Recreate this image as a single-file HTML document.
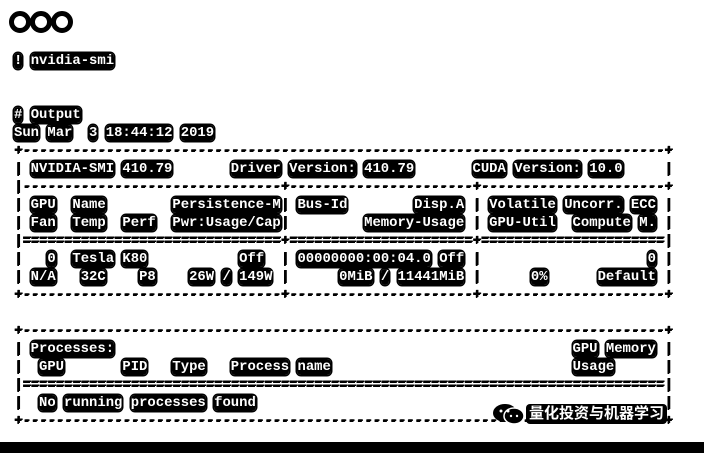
<!DOCTYPE html>
<html><head><meta charset="utf-8"><style>
html,body{margin:0;padding:0;background:#fff;width:704px;height:453px;overflow:hidden;position:relative}
pre{position:absolute;left:14px;top:52px;margin:0;font-family:"Liberation Mono",monospace;font-weight:bold;font-size:13.9px;line-height:18px;color:#000;white-space:pre;text-shadow:1px 0 #000,0 1px #000}
pre span.w{background:#000;color:#fff;border-radius:4px;box-shadow:0 0 0 1.5px #000;text-shadow:none}
.dots{position:absolute;top:11px;left:9px}
.dots i{display:inline-block;width:12px;height:12px;border:5px solid #000;border-radius:50%;margin-right:-1px}
.wm{position:absolute;left:492px;top:404px;height:20px;display:flex;align-items:center;font-family:"Liberation Sans","Noto Sans CJK SC",sans-serif;font-size:15px;color:#fff}
.wm b{background:#000;padding:0 3px;border-radius:4px;font-weight:bold;line-height:20px}
.bar{position:absolute;left:0;top:442px;width:704px;height:11px;background:#000}
</style></head><body>
<div class="dots"><i></i><i></i><i></i></div>
<pre id="t">! nvidia-smi


# Output
Sun Mar  3 18:44:12 2019
+-----------------------------------------------------------------------------+
| NVIDIA-SMI 410.79       Driver Version: 410.79       CUDA Version: 10.0     |
|-------------------------------+----------------------+----------------------+
| GPU  Name        Persistence-M| Bus-Id        Disp.A | Volatile Uncorr. ECC |
| Fan  Temp  Perf  Pwr:Usage/Cap|         Memory-Usage | GPU-Util  Compute M. |
|===============================+======================+======================|
|   0  Tesla K80           Off  | 00000000:00:04.0 Off |                    0 |
| N/A   32C    P8    26W / 149W |      0MiB / 11441MiB |      0%      Default |
+-------------------------------+----------------------+----------------------+

+-----------------------------------------------------------------------------+
| Processes:                                                       GPU Memory |
|  GPU       PID   Type   Process name                             Usage      |
|=============================================================================|
|  No running processes found                                                 |
+-----------------------------------------------------------------------------+</pre>
<div class="wm"><svg width="34" height="22" viewBox="0 0 34 22"><ellipse cx="13" cy="10" rx="12" ry="9" fill="#000"/><ellipse cx="22" cy="13" rx="10" ry="8" fill="#000" stroke="#fff" stroke-width="1.5"/><circle cx="9" cy="8" r="1.5" fill="#fff"/><circle cx="16" cy="8" r="1.5" fill="#fff"/><circle cx="19" cy="13" r="1.2" fill="#fff"/><circle cx="25" cy="13" r="1.2" fill="#fff"/></svg><b>量化投资与机器学习</b></div>
<div class="bar"></div>
<script>
var p=document.getElementById('t');
var lines=p.textContent.split('\n');
function esc(s){return s.replace(/&/g,'&amp;').replace(/</g,'&lt;')}
p.innerHTML=lines.map(function(l){
 if(/^[+\-=|\s]*$/.test(l)) return esc(l);
 return l.replace(/[^ |]+/g,function(tok){
   if(/^[+\-=|]+$/.test(tok)) return esc(tok);
   return '<span class="w">'+esc(tok)+'</span>';
 });
}).join('\n');
</script>
</body></html>
